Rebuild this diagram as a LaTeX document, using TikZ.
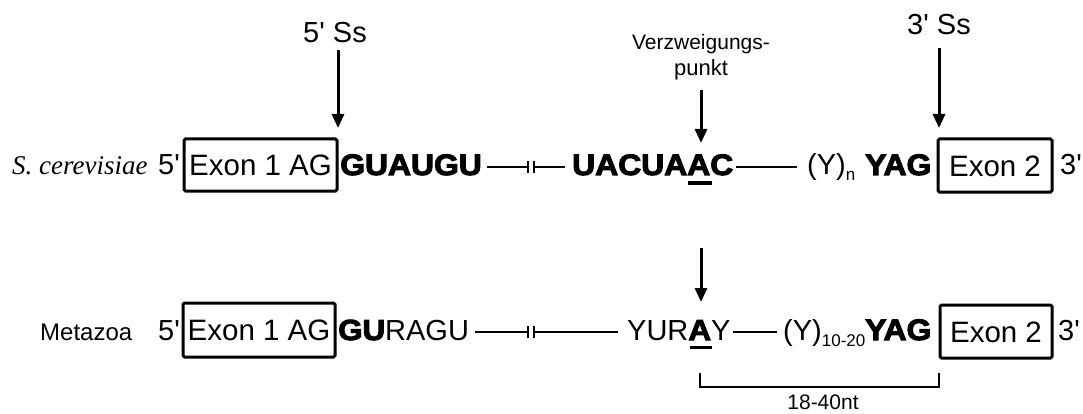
\documentclass[tikz,border=0pt]{standalone}
\usepackage{fontspec}
\setmainfont{Liberation Sans}
\newfontfamily\heavy{Liberation Sans Bold}[FakeBold=3.5,FakeStretch=1.08]
\newfontfamily\serifit{Liberation Serif Italic}
\usetikzlibrary{arrows.meta}
\newcommand{\subtxt}[1]{\raisebox{-6pt}{\fontsize{17}{17}\selectfont #1}}
\newcommand{\sq}{\textquotesingle}
\begin{document}
\begin{tikzpicture}[x=1pt,y=-1pt,
  txt/.style={inner sep=0pt, anchor=base west, font=\fontsize{29}{34}\selectfont},
  hv/.style={inner sep=0pt, anchor=base west, font=\fontsize{29.5}{34}\selectfont\heavy},
  exonbox/.style={draw, line width=3pt, rounded corners=1.5pt, inner sep=0pt,
    font=\fontsize{29.5}{34}\selectfont, text height=21pt, text depth=0pt},
  conn/.style={line width=2pt},
  ubar/.style={line width=3pt},
  pointer/.style={line width=3pt, -{Triangle[width=12pt,length=14pt]}},
  toplabel/.style={inner sep=0pt, anchor=base}]
\useasboundingbox (0,0) rectangle (1083,414);

% ---------- top labels and arrows ----------
\node[toplabel, font=\fontsize{29}{34}\selectfont] (ss5) at (335,43) {5\sq{} Ss};
\node[toplabel, font=\fontsize{29}{34}\selectfont] (ss3) at (939,35) {3\sq{} Ss};
\node[toplabel, font=\fontsize{21}{25}\selectfont] (vp1) at (701,50) {Verzweigungs-};
\node[toplabel, font=\fontsize{22}{25}\selectfont] (vp2) at (701,76) {punkt};

\coordinate (a5s) at (338,50);  \coordinate (a5e) at (338,128);
\coordinate (a3s) at (939,48);  \coordinate (a3e) at (939,128);
\coordinate (bps) at (701,90);  \coordinate (bpe) at (701,143);
\coordinate (bqs) at (701,248); \coordinate (bqe) at (701,302);
\draw[pointer] (a5s) -- (a5e);
\draw[pointer] (a3s) -- (a3e);
\draw[pointer] (bps) -- (bpe);
\draw[pointer] (bqs) -- (bqe);

% ---------- row 1: S. cerevisiae ----------
\node[inner sep=0pt, anchor=base west, font=\fontsize{27}{31}\selectfont\serifit] (sc) at (12,175) {S. cerevisiae};
\node[txt] (p5a) at (158,175) {5\sq};
\node[exonbox, minimum width=153pt, minimum height=52pt] (ex1a) at (260.5,165) {Exon 1 AG};
\node[hv] (gua) at (340,175) {GUAUGU};
\coordinate (l1s) at (487,167); \coordinate (b1a) at (528,167);
\coordinate (b2a) at (534,167); \coordinate (l1e) at (565,167);
\draw[conn] (l1s) -- (b1a);
\draw[conn] (b2a) -- (l1e);
\draw[conn] ([yshift=-6pt]b1a) -- ([yshift=6pt]b1a);
\draw[conn] ([yshift=-6pt]b2a) -- ([yshift=6pt]b2a);
\node[hv] (uac) at (572,175) {UACUAAC};
\coordinate (u1s) at (688,183); \coordinate (u1e) at (712,183);
\draw[ubar] (u1s) -- (u1e);
\coordinate (l2s) at (736,167); \coordinate (l2e) at (797,167);
\draw[conn] (l2s) -- (l2e);
\node[txt] (yna) at (807,175) {(Y)\subtxt{n}};
\node[hv] (yaga) at (865,175) {YAG};
\node[exonbox, minimum width=114pt, minimum height=53pt] (ex2a) at (995,165.5) {Exon 2};
\node[txt] (p3a) at (1060,175) {3\sq};

% ---------- row 2: Metazoa ----------
\node[inner sep=0pt, anchor=base west, font=\fontsize{24}{28}\selectfont] (mz) at (40,340) {Metazoa};
\node[txt] (p5b) at (158,340) {5\sq};
\node[exonbox, minimum width=152pt, minimum height=54pt] (ex1b) at (259,330) {Exon 1 AG};
\node[txt] (gub) at (338,340) {{\heavy GU}RAGU};
\coordinate (m1s) at (475,332); \coordinate (b1b) at (528,332);
\coordinate (b2b) at (534,332); \coordinate (m1e) at (618,332);
\draw[conn] (m1s) -- (b1b);
\draw[conn] (b2b) -- (m1e);
\draw[conn] ([yshift=-6pt]b1b) -- ([yshift=6pt]b1b);
\draw[conn] ([yshift=-6pt]b2b) -- ([yshift=6pt]b2b);
\node[txt] (yur) at (627,340) {YUR{\heavy A}Y};
\coordinate (u2s) at (690,347); \coordinate (u2e) at (712,347);
\draw[ubar] (u2s) -- (u2e);
\coordinate (m2s) at (733,332); \coordinate (m2e) at (777,332);
\draw[conn] (m2s) -- (m2e);
\node[txt] (ynb) at (783,340) {(Y)\subtxt{10-20}};
\node[hv] (yagb) at (865,340) {YAG};
\node[exonbox, minimum width=112pt, minimum height=53pt] (ex2b) at (996,331.5) {Exon 2};
\node[txt] (p3b) at (1058,340) {3\sq};

% ---------- bracket ----------
\coordinate (k1) at (700,373); \coordinate (k2) at (700,387);
\coordinate (k3) at (939,387); \coordinate (k4) at (939,373);
\draw[line width=2.5pt] (k1) -- (k2) -- (k3) -- (k4);
\node[toplabel, font=\fontsize{21}{24}\selectfont] (nt) at (823,409) {18-40nt};
\end{tikzpicture}
\end{document}
